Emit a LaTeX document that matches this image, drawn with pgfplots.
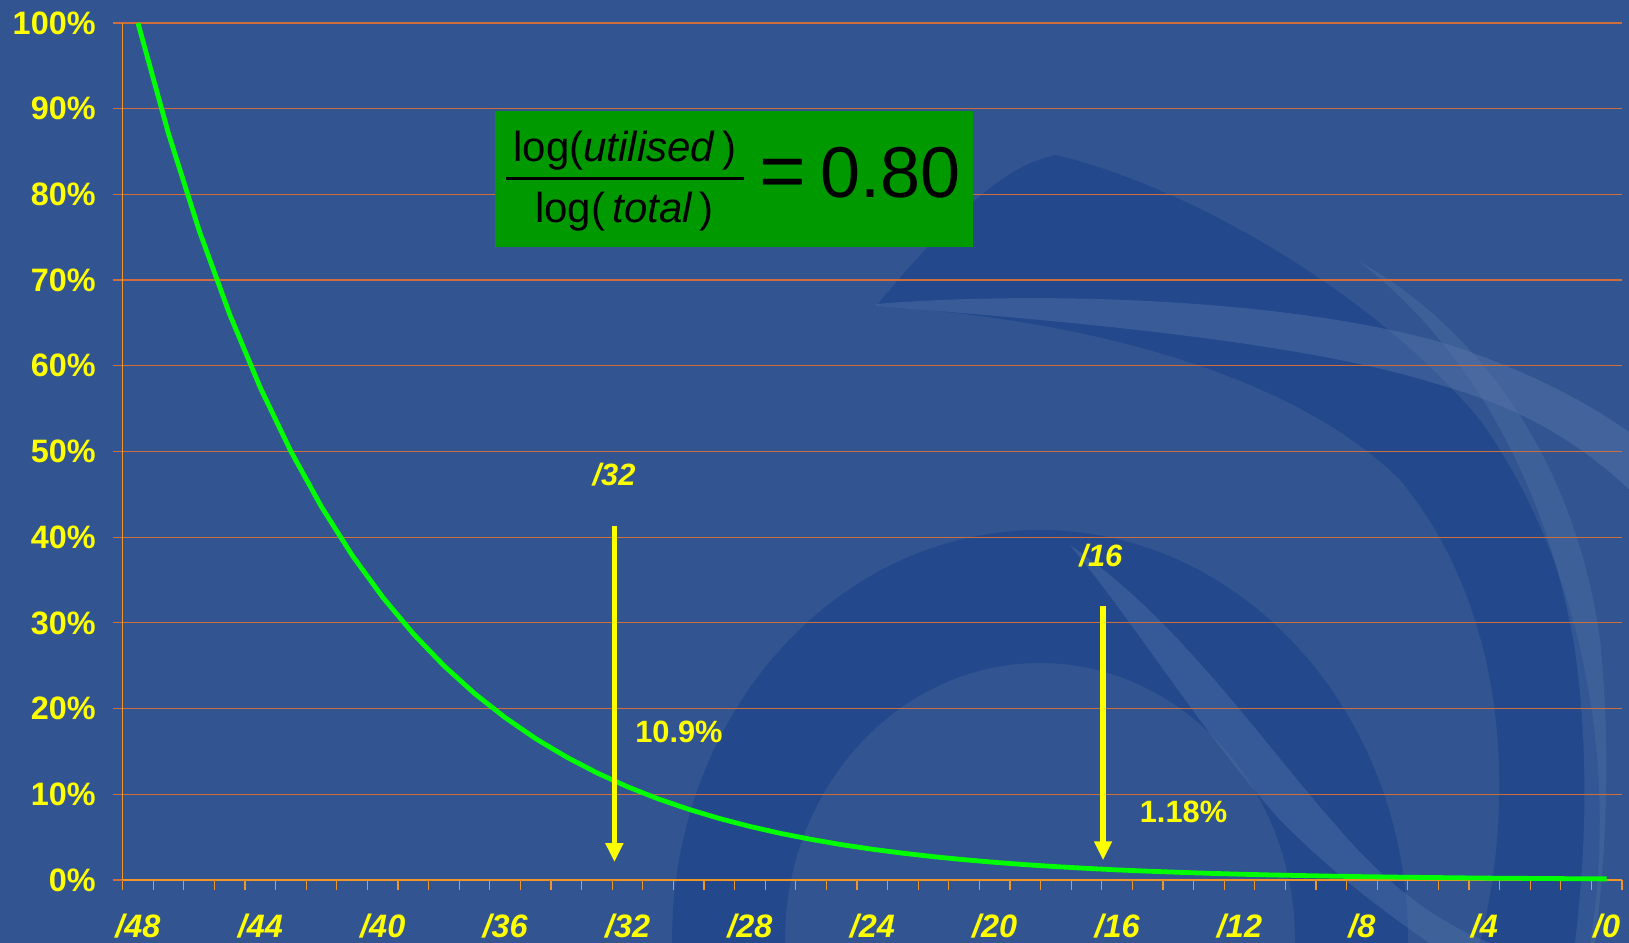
\documentclass[border=0pt]{standalone}
\usepackage{pgfplots}
\pgfplotsset{compat=1.18}
\usepackage{fontspec}
\setmainfont{Liberation Sans}
\usetikzlibrary{arrows.meta}
\definecolor{bgblue}{RGB}{50,85,145}
\definecolor{darkblue}{RGB}{30,68,138}
\definecolor{lightblue}{RGB}{90,122,172}
\definecolor{gridor}{RGB}{205,110,60}
\definecolor{axor}{RGB}{240,150,40}
\definecolor{curvegreen}{RGB}{0,255,0}
\definecolor{boxgreen}{RGB}{0,153,0}
\definecolor{yel}{RGB}{255,255,0}
\newcommand{\lblfont}{\fontsize{16.2}{19}\selectfont\bfseries}
\newcommand{\annfont}{\fontsize{15.4}{18}\selectfont\bfseries}
\pgfplotstableread{
x y
48 100
47 87.06
46 75.79
45 65.98
44 57.43
43 50.00
42 43.53
41 37.89
40 32.99
39 28.72
38 25.00
37 21.76
36 18.95
35 16.49
34 14.36
33 12.50
32 10.88
31 9.47
30 8.25
29 7.18
28 6.25
27 5.44
26 4.74
25 4.12
24 3.59
23 3.13
22 2.72
21 2.37
20 2.06
19 1.79
18 1.56
17 1.36
16 1.18
15 1.03
14 0.90
13 0.78
12 0.68
11 0.59
10 0.52
9 0.45
8 0.39
7 0.34
6 0.30
5 0.26
4 0.22
3 0.20
2 0.17
1 0.15
0 0.13
}\curvedata
\begin{document}
\begin{tikzpicture}
\useasboundingbox (0,0) rectangle (814.5pt,471.5pt);
\fill[bgblue] (0,0) rectangle (814.5pt,471.5pt);
% decorative watermark swirl (coordinates in reference pixels)
\begin{scope}[shift={(0,471.5pt)}, x=0.5pt, y=-0.5pt]
  \clip (0,0) rectangle (1629,943);
  \fill[darkblue, opacity=0.7] (876,306) .. controls (940,230) and (1000,165) .. (1056,155)
     .. controls (1200,190) and (1380,300) .. (1480,420)
     .. controls (1580,560) and (1620,760) .. (1590,943)
     -- (1480,943) .. controls (1520,780) and (1500,600) .. (1400,480)
     .. controls (1300,380) and (1100,320) .. (876,306) -- cycle;
  \fill[darkblue, opacity=0.7, even odd rule] (1040,940) ellipse [x radius=368, y radius=410]
     (1040,940) ellipse [x radius=255, y radius=277];
  \fill[lightblue, opacity=0.4] (876,304) .. controls (1050,290) and (1300,300) .. (1450,345)
     .. controls (1540,375) and (1600,410) .. (1640,440) -- (1640,500)
     .. controls (1590,450) and (1530,410) .. (1440,385)
     .. controls (1300,340) and (1050,320) .. (876,306) -- cycle;
  \fill[lightblue, opacity=0.35] (1070,545) .. controls (1180,620) and (1260,740) .. (1340,830)
     .. controls (1400,900) and (1460,935) .. (1510,950) -- (1440,950)
     .. controls (1380,910) and (1330,870) .. (1280,820)
     .. controls (1200,730) and (1140,630) .. (1070,545) -- cycle;
  \fill[lightblue, opacity=0.3] (1360,262) .. controls (1480,330) and (1575,460) .. (1600,640)
     .. controls (1612,760) and (1605,860) .. (1595,943) -- (1575,943)
     .. controls (1585,860) and (1590,760) .. (1575,650)
     .. controls (1545,470) and (1460,340) .. (1360,262) -- cycle;
\end{scope}
\begin{axis}[
  at={(61.35pt,31.5pt)}, anchor=south west,
  scale only axis, width=749.65pt, height=428.5pt,
  x dir=reverse,
  xmin=-0.5, xmax=48.5, ymin=0, ymax=100,
  axis x line=bottom, axis y line=left,
  axis line style={-, axor, line width=0.6pt},
  tick align=outside,
  major tick length=5pt,
  xtick={-0.5,0.5,...,48.5},
  xticklabels={},
  xtick style={axor, line width=0.6pt},
  extra x ticks={0,4,...,48},
  extra x tick labels={/0,/4,/8,/12,/16,/20,/24,/28,/32,/36,/40,/44,/48},
  extra x tick style={major tick length=0pt, tick style={draw=none},
     xticklabel style={font=\lblfont\itshape, text=yel, yshift=-13.5pt}},
  ytick={0,10,...,100},
  yticklabels={0\%,10\%,20\%,30\%,40\%,50\%,60\%,70\%,80\%,90\%,100\%},
  ytick style={gridor, line width=0.6pt},
  ymajorgrids,
  major grid style={gridor, line width=0.6pt},
  yticklabel style={font=\lblfont, text=yel, xshift=-5pt},
  clip=false,
]
\addplot[curvegreen, line width=2.4pt] table[x=x, y=y] {\curvedata};
\fill[boxgreen] (axis cs:36.33,89.7) rectangle (axis cs:20.71,73.9);
\node[anchor=base, inner sep=0pt, font=\fontsize{21}{24}\selectfont] at (axis cs:32.09,83.8) {log(\textit{utilised}\,)};
\node[anchor=base, inner sep=0pt, font=\fontsize{21}{24}\selectfont] at (axis cs:32.10,76.7) {log(\,\textit{total}\,)};
\draw[black, line width=1.5pt] (axis cs:35.97,81.8) -- (axis cs:28.19,81.8);
\node[inner sep=0pt, font=\fontsize{40}{44}\selectfont] at (axis cs:26.93,81.8) {=};
\node[anchor=base west, inner sep=0pt, font=\fontsize{36}{40}\selectfont] at (axis cs:25.71,79.6) {0.80};
\draw[yel, line width=2.7pt, -{Triangle[length=9.5pt,width=8.5pt]}] (axis cs:32.43,41.3) -- (axis cs:32.43,2.1);
\draw[yel, line width=2.7pt, -{Triangle[length=9.5pt,width=8.5pt]}] (axis cs:16.46,32.0) -- (axis cs:16.46,2.3);
\node[text=yel, font=\annfont\itshape] at (axis cs:32.44,47.3) {/32};
\node[text=yel, font=\annfont\itshape] at (axis cs:16.53,37.9) {/16};
\node[text=yel, font=\annfont] at (axis cs:30.32,17.3) {10.9\%};
\node[text=yel, font=\annfont] at (axis cs:13.83,7.9) {1.18\%};
\end{axis}
\end{tikzpicture}
\end{document}
